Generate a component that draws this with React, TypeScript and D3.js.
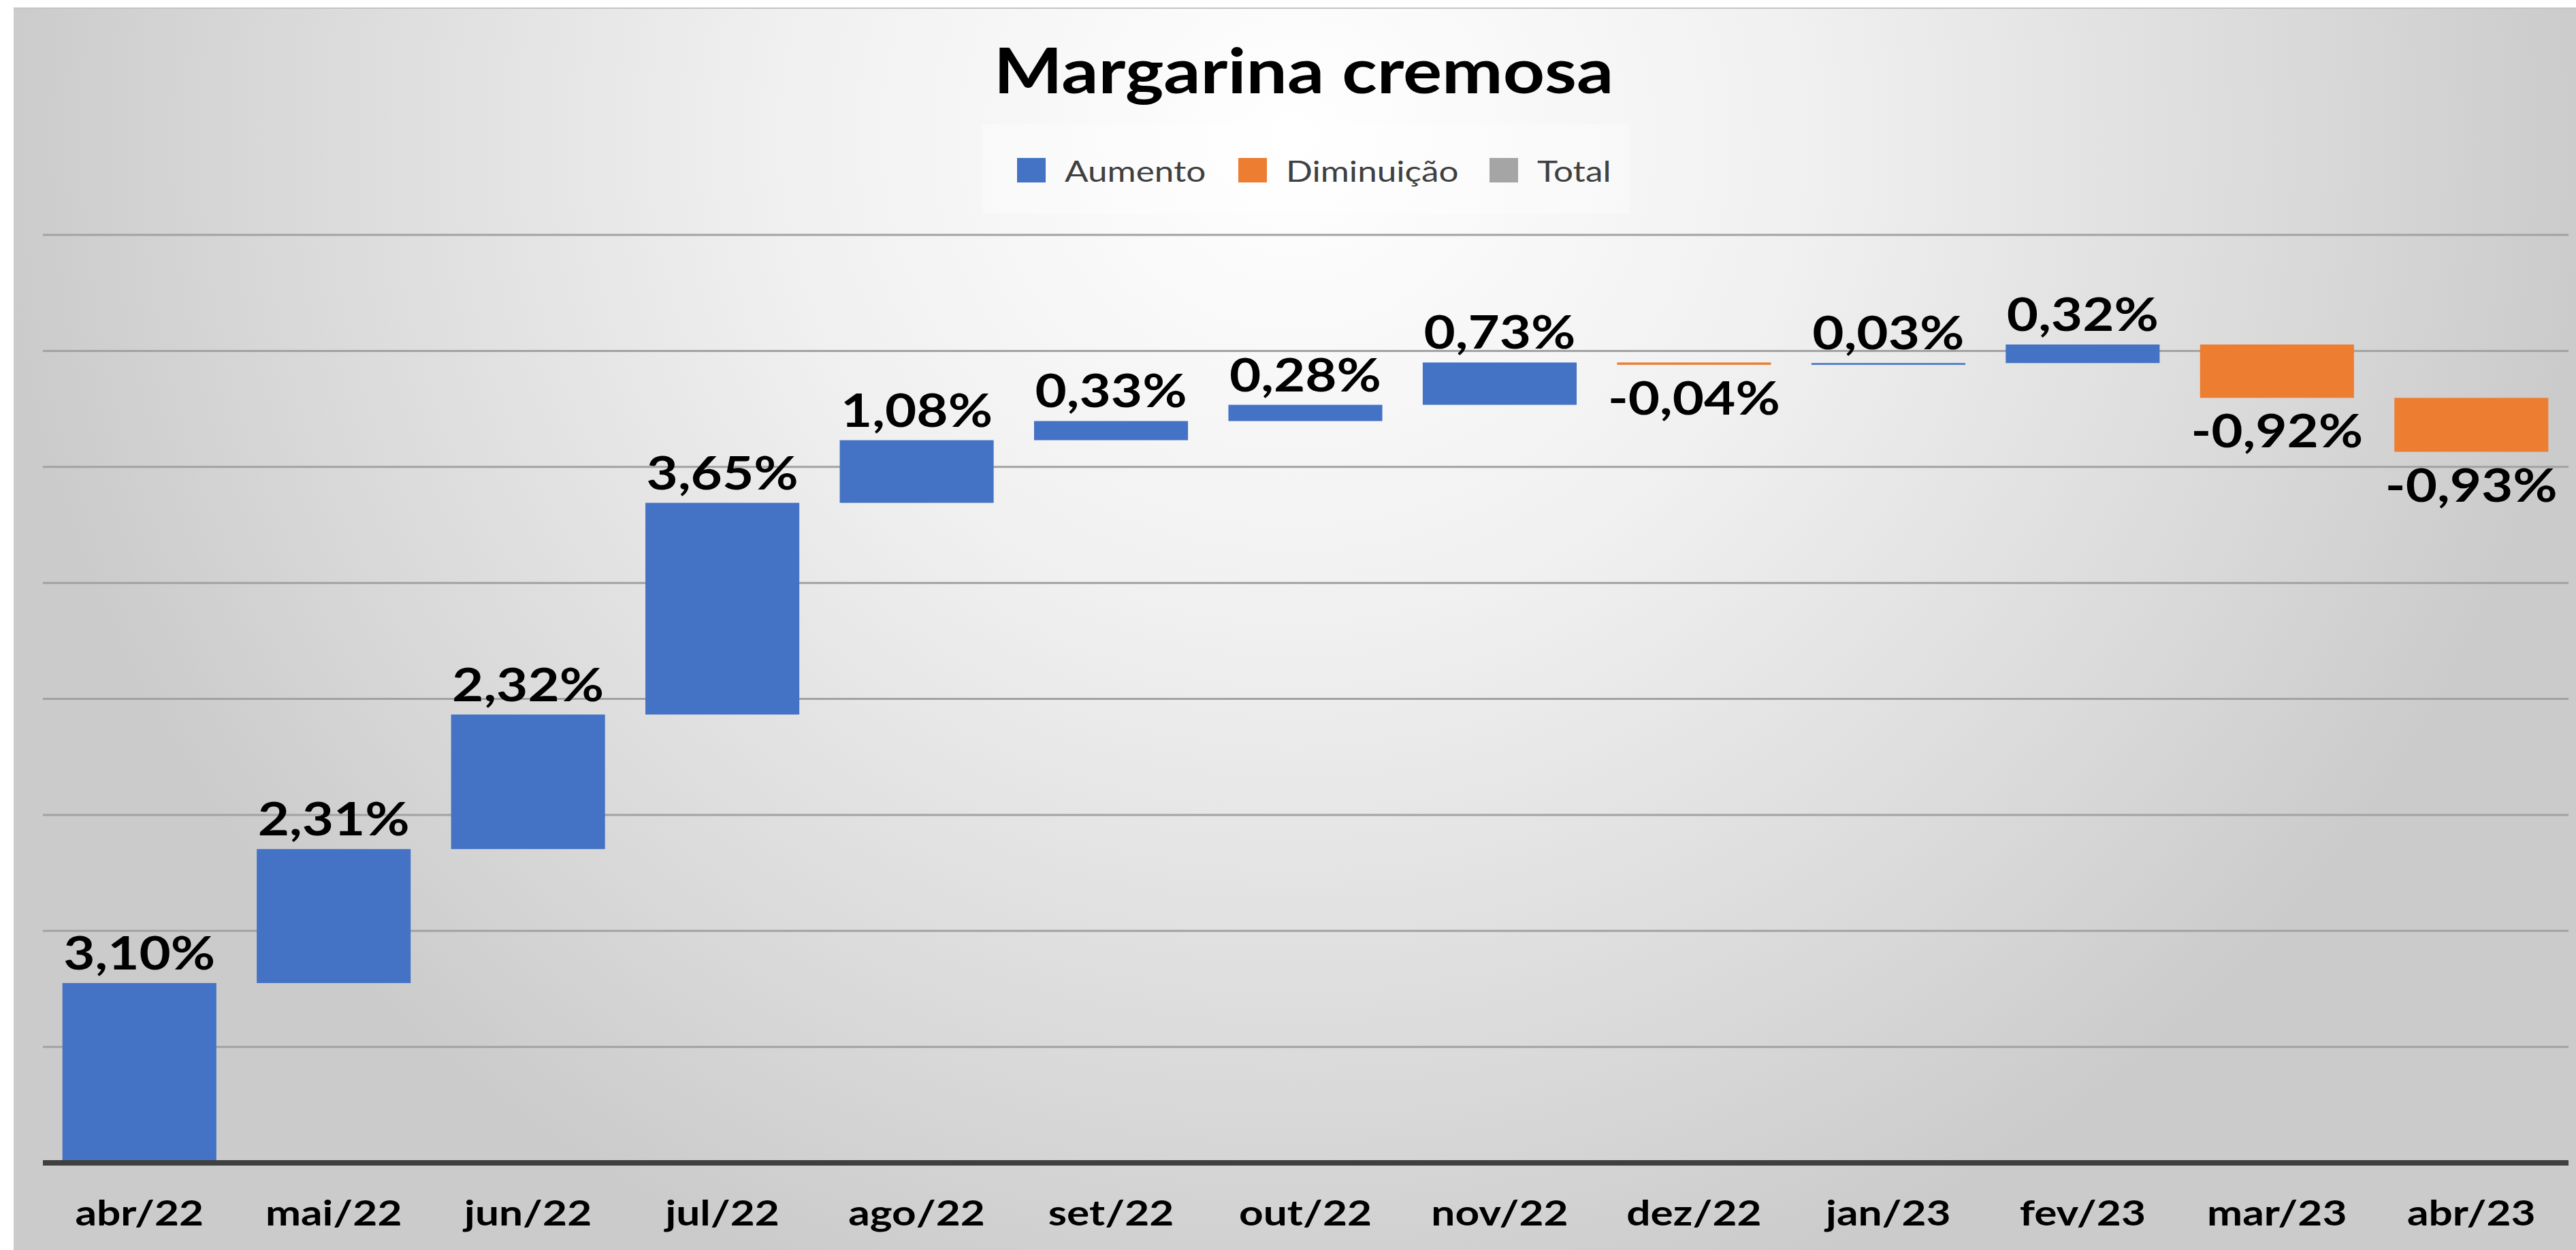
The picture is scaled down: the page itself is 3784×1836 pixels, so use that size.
import React, { useEffect, useRef } from 'react';
import * as d3 from 'd3';

// Variação mensal do preço - margarina cremosa
const months = ['abr/22', 'mai/22', 'jun/22', 'jul/22', 'ago/22', 'set/22', 'out/22', 'nov/22', 'dez/22', 'jan/23', 'fev/23', 'mar/23', 'abr/23'];
const changes = [3.10, 2.31, 2.32, 3.65, 1.08, 0.33, 0.28, 0.73, -0.04, 0.03, 0.32, -0.92, -0.93];
const yTicks = [2, 4, 6, 8, 10, 12, 14, 16];
const legendLabels = ['Aumento', 'Diminuição', 'Total'];
const legendColors = ['#4472C4', '#ED7D31', '#A5A5A5'];
const title = 'Margarina cremosa';

const WIDTH = 3784;
const HEIGHT = 1836;
const FONT = "Lato, 'Open Sans', sans-serif";
const SX = 1.21; // texto levemente esticado na horizontal, como no original

const fmt = (v: number) => v.toFixed(2).replace('.', ',') + '%';

const App: React.FC = () => {
  const svgRef = useRef<SVGSVGElement>(null);

  useEffect(() => {
    const svg = d3.select(svgRef.current);
    svg.selectAll('*').remove();

    // background
    const defs = svg.append('defs');
    const grad = defs.append('radialGradient')
      .attr('id', 'bg')
      .attr('gradientUnits', 'userSpaceOnUse')
      .attr('cx', 0).attr('cy', 0).attr('r', 1)
      .attr('gradientTransform', 'translate(1900,200) scale(1900,1800)');
    grad.append('stop').attr('offset', 0).attr('stop-color', '#ffffff');
    grad.append('stop').attr('offset', 0.4).attr('stop-color', '#f0f0f0');
    grad.append('stop').attr('offset', 0.8).attr('stop-color', '#d8d8d8');
    grad.append('stop').attr('offset', 1).attr('stop-color', '#cbcbcb');

    svg.append('rect').attr('width', WIDTH).attr('height', HEIGHT).attr('fill', '#ffffff');
    svg.append('rect')
      .attr('x', 20).attr('y', 11)
      .attr('width', WIDTH - 20).attr('height', HEIGHT - 11)
      .attr('fill', 'url(#bg)');
    svg.append('line')
      .attr('x1', 20).attr('x2', WIDTH).attr('y1', 12).attr('y2', 12)
      .attr('stroke', '#c4c4c4').attr('stroke-width', 2);

    // scales
    const x = d3.scaleBand<string>()
      .domain(months)
      .range([62, 3773])
      .paddingInner(0.208)
      .paddingOuter(0.104);

    const y = d3.scaleLinear()
      .domain([0, 16])
      .range([1708, 345]);

    // gridlines
    svg.append('g')
      .selectAll('line')
      .data(yTicks)
      .enter().append('line')
      .attr('x1', 63).attr('x2', 3773)
      .attr('y1', d => y(d)).attr('y2', d => y(d))
      .attr('stroke', '#a2a2a2')
      .attr('stroke-width', 3);

    // waterfall
    let acc = 0;
    const steps = changes.map((v, i) => {
      const start = acc;
      acc += v;
      return { month: months[i], value: v, start, end: acc };
    });

    svg.append('g')
      .selectAll('rect')
      .data(steps)
      .enter().append('rect')
      .attr('x', d => x(d.month) as number)
      .attr('width', x.bandwidth())
      .attr('y', d => y(Math.max(d.start, d.end)))
      .attr('height', d => Math.max(2.5, Math.abs(y(d.start) - y(d.end))))
      .attr('fill', d => (d.value >= 0 ? legendColors[0] : legendColors[1]));

    // value labels
    svg.append('g')
      .selectAll('text')
      .data(steps)
      .enter().append('text')
      .attr('transform', d => {
        const cx = (x(d.month) as number) + x.bandwidth() / 2;
        const cy = d.value >= 0
          ? y(Math.max(d.start, d.end)) - 20
          : y(Math.min(d.start, d.end)) + 73;
        return `translate(${cx},${cy}) scale(${SX},1)`;
      })
      .attr('text-anchor', 'middle')
      .attr('font-family', FONT)
      .attr('font-weight', 700)
      .attr('font-size', 66)
      .attr('fill', '#000000')
      .text(d => fmt(d.value));

    // x axis
    svg.append('line')
      .attr('x1', 63).attr('x2', 3773)
      .attr('y1', y(0)).attr('y2', y(0))
      .attr('stroke', '#404040')
      .attr('stroke-width', 8);

    svg.append('g')
      .selectAll('text')
      .data(months)
      .enter().append('text')
      .attr('transform', d => `translate(${(x(d) as number) + x.bandwidth() / 2},1800) scale(1.22,1)`)
      .attr('text-anchor', 'middle')
      .attr('font-family', FONT)
      .attr('font-weight', 700)
      .attr('font-size', 51)
      .attr('fill', '#000000')
      .text(d => d);

    // title
    svg.append('text')
      .attr('transform', `translate(1915,137) scale(1.175,1)`)
      .attr('text-anchor', 'middle')
      .attr('font-family', FONT)
      .attr('font-weight', 700)
      .attr('font-size', 91)
      .attr('fill', '#000000')
      .text(title);

    // legend
    const legend = svg.append('g');
    legend.append('rect')
      .attr('x', 1443).attr('y', 183)
      .attr('width', 951).attr('height', 131)
      .attr('fill', '#ffffff').attr('opacity', 0.35);

    const legendX = [1494, 1819, 2188];
    const item = legend.selectAll('g.item')
      .data(legendLabels)
      .enter().append('g')
      .attr('class', 'item')
      .attr('transform', (_d, i) => `translate(${legendX[i]},0)`);

    item.append('rect')
      .attr('x', 0).attr('y', 232)
      .attr('width', 42).attr('height', 36)
      .attr('fill', (_d, i) => legendColors[i]);

    item.append('text')
      .attr('transform', 'translate(70,267) scale(1.22,1)')
      .attr('font-family', FONT)
      .attr('font-size', 42)
      .attr('fill', '#404040')
      .text(d => d);
  }, []);

  return (
    <div style={{ position: 'fixed', left: 0, top: 0 }}>
      <svg ref={svgRef} width={WIDTH} height={HEIGHT} style={{ display: 'block' }}></svg>
    </div>
  );
};

export default App;
